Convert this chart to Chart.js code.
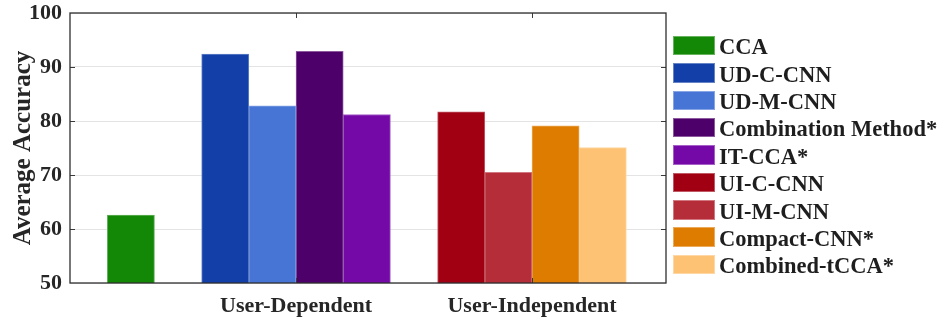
<!DOCTYPE html>
<html>
<head>
<meta charset="utf-8">
<script src="https://cdn.jsdelivr.net/npm/chart.js@4/dist/chart.umd.min.js"></script>
<style>
  html, body { margin: 0; padding: 0; background: #ffffff; }
  #wrap { position: relative; width: 940px; height: 322px; }
  #legend { position: absolute; margin: 0; padding: 0; list-style: none;
            font-family: 'Liberation Serif', 'Times New Roman', serif; font-weight: bold;
            font-size: 22.5px; color: #1e1e1e; }
  #legend li { display: flex; align-items: center; height: 27.4px; white-space: nowrap; }
  #legend .sw { width: 42px; height: 19.5px; margin-right: 4.5px; box-sizing: border-box; flex: none; }
  #legend .tx { position: relative; top: 2px; line-height: 1; }
</style>
</head>
<body>
<div id="wrap">
  <canvas id="chart" width="940" height="322"></canvas>
  <ul id="legend"></ul>
</div>
<script>
// Methods, in the order they appear along the axis and in the legend
const methods = ['CCA', 'UD-C-CNN', 'UD-M-CNN', 'Combination Method*', 'IT-CCA*',
                 'UI-C-CNN', 'UI-M-CNN', 'Compact-CNN*', 'Combined-tCCA*'];
// Average accuracy (%) of each method
const accuracy = [62.6, 92.4, 82.8, 92.9, 81.2, 81.7, 70.5, 79.1, 75.1];
// How many consecutive methods belong to each training setting
const groupSizes = [1, 4, 4];
const groupLabels = ['', 'User-Dependent', 'User-Independent'];
// Value axis ticks
const yTicks = [50, 60, 70, 80, 90, 100];

const colors = ['#138806', '#1340A8', '#4675D6', '#4E006A', '#7509A8',
                '#A00012', '#B62D3A', '#DE7C00', '#FDC274'];

function lighten(hex, f) {
  const n = parseInt(hex.slice(1), 16);
  const c = [(n >> 16) & 255, (n >> 8) & 255, n & 255].map(v => Math.round(v + (255 - v) * f));
  return 'rgb(' + c.join(',') + ')';
}

// Bar slots: one slot per method, an empty slot between settings
const slots = [];
const groupCenters = [];
{
  let pos = 0, k = 0;
  groupSizes.forEach(n => {
    const first = pos;
    for (let i = 0; i < n; i++) slots[k++] = pos++;
    groupCenters.push((first + pos - 1) / 2);
    pos++;
  });
}

Chart.defaults.font.family = "'Liberation Serif', 'Times New Roman', serif";
Chart.defaults.font.weight = 'bold';
Chart.defaults.color = '#262626';

const datasets = methods.map((m, i) => ({
  label: m,
  data: [{ x: slots[i], y: accuracy[i] }],
  backgroundColor: colors[i],
  borderColor: lighten(colors[i], 0.35),
  borderWidth: 1,
  borderSkipped: 'bottom',
  grouped: false,
  barPercentage: 1,
  categoryPercentage: 1
}));

// Plot frame with inward tick marks on all four sides
const frame = {
  id: 'frame',
  afterDatasetsDraw(chart) {
    const { ctx, chartArea: a, scales: { x, y } } = chart;
    ctx.save();
    ctx.strokeStyle = '#3a3a3a';
    ctx.lineWidth = 1;
    ctx.beginPath();
    yTicks.slice(1, -1).forEach(v => {
      const py = Math.round(y.getPixelForValue(v)) + 0.5;
      ctx.moveTo(a.left, py); ctx.lineTo(a.left + 5, py);
      ctx.moveTo(a.right, py); ctx.lineTo(a.right - 5, py);
    });
    groupCenters.forEach((v, i) => {
      if (!groupLabels[i]) return;
      const px = Math.round(x.getPixelForValue(v)) + 0.5;
      ctx.moveTo(px, a.bottom); ctx.lineTo(px, a.bottom - 5);
      ctx.moveTo(px, a.top); ctx.lineTo(px, a.top + 5);
    });
    ctx.stroke();
    ctx.strokeStyle = '#2e2e2e';
    ctx.lineWidth = 1.3;
    ctx.strokeRect(a.left, a.top, a.right - a.left, a.bottom - a.top);
    ctx.restore();
  }
};

// Legend list built from the chart's datasets
const htmlLegend = {
  id: 'htmlLegend',
  afterUpdate(chart) {
    const ul = document.getElementById('legend');
    ul.innerHTML = '';
    ul.style.left = (chart.chartArea.right + 6.5) + 'px';
    ul.style.top = '31.8px';
    chart.data.datasets.forEach(ds => {
      const li = document.createElement('li');
      const sw = document.createElement('span');
      sw.className = 'sw';
      sw.style.background = ds.backgroundColor;
      sw.style.border = '1px solid ' + ds.borderColor;
      const tx = document.createElement('span');
      tx.className = 'tx';
      tx.textContent = ds.label;
      li.appendChild(sw); li.appendChild(tx);
      ul.appendChild(li);
    });
  }
};

new Chart(document.getElementById('chart'), {
  type: 'bar',
  data: { datasets },
  plugins: [frame, htmlLegend],
  options: {
    responsive: false,
    animation: false,
    layout: { padding: { top: 13, right: 274, left: 0, bottom: 0 } },
    plugins: { legend: { display: false }, tooltip: { enabled: false } },
    scales: {
      x: {
        type: 'linear',
        offset: false,
        min: -1.29,
        max: 11.34,
        afterFit: s => { s.height = 39; s.paddingLeft = 0; s.paddingRight = 0; },
        afterBuildTicks: s => { s.ticks = groupCenters.map(v => ({ value: v })); },
        ticks: {
          font: { size: 22, weight: 'bold' },
          padding: 10,
          color: '#262626',
          callback: v => groupLabels[groupCenters.indexOf(v)] || ''
        },
        grid: { display: false, drawTicks: false },
        border: { display: false }
      },
      y: {
        min: yTicks[0],
        max: yTicks[yTicks.length - 1],
        afterFit: s => { s.width = 70; s.paddingTop = 0; s.paddingBottom = 0; },
        afterBuildTicks: s => { s.ticks = yTicks.map(v => ({ value: v })); },
        ticks: { font: { size: 22, weight: 'bold' }, padding: 8, color: '#262626' },
        grid: { color: '#e4e4e4', lineWidth: 1, drawTicks: false },
        border: { display: false },
        title: {
          display: true,
          text: 'Average Accuracy',
          font: { size: 25, weight: 'bold' },
          color: '#262626',
          padding: { top: 9, bottom: 0 }
        }
      }
    }
  }
});
</script>
</body>
</html>
